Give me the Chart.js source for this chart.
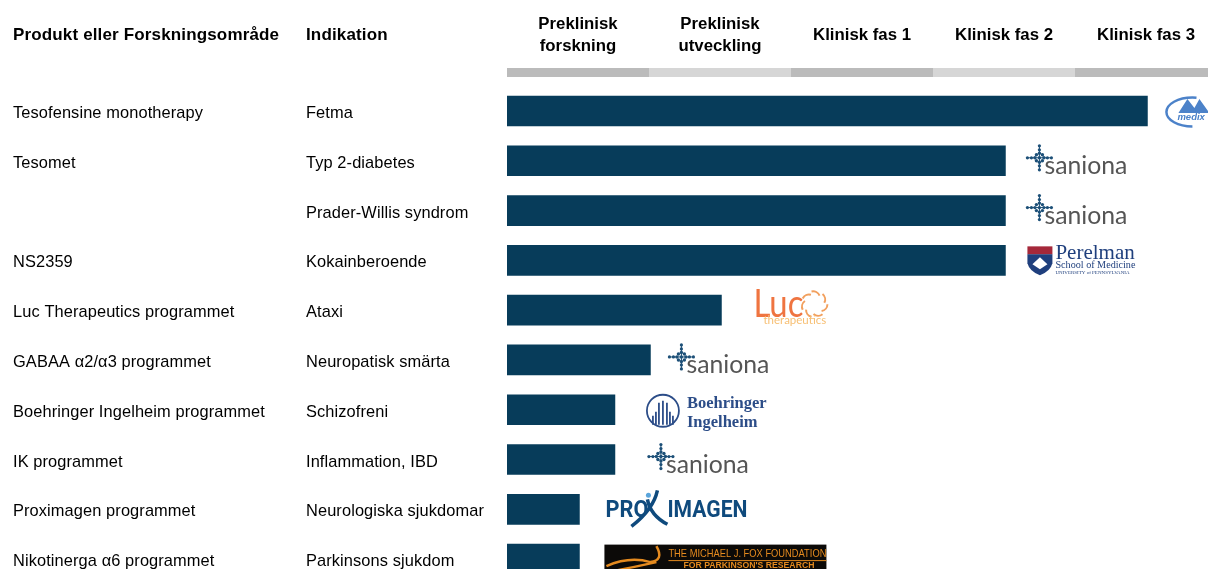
<!DOCTYPE html>
<html lang="sv">
<head>
<meta charset="utf-8">
<title>Pipeline</title>
<script src="https://cdn.jsdelivr.net/npm/chart.js@4"></script>
<style>
  html, body { margin: 0; padding: 0; background: #fff; overflow: hidden; width: 1208px; height: 569px; }
  #wrap { position: relative; width: 1217px; height: 600px; }
</style>
</head>
<body>
<div id="wrap"><canvas id="pipeline"></canvas></div>
<script>
const products = ["Tesofensine monotherapy", "Tesomet", "", "NS2359", "Luc Therapeutics programmet", "GABAA α2/α3 programmet", "Boehringer Ingelheim programmet", "IK programmet", "Proximagen programmet", "Nikotinerga α6 programmet"];
const indications = ["Fetma", "Typ 2-diabetes", "Prader-Willis syndrom", "Kokainberoende", "Ataxi", "Neuropatisk smärta", "Schizofreni", "Inflammation, IBD", "Neurologiska sjukdomar", "Parkinsons sjukdom"];
// progress measured in phases, 1 unit = one column
const progress = [4.51, 3.51, 3.51, 3.51, 1.51, 1.01, 0.76, 0.76, 0.51, 0.51];
const phases = [["Preklinisk", "forskning"], ["Preklinisk", "utveckling"], "Klinisk fas 1", "Klinisk fas 2", "Klinisk fas 3"];
const phaseTicks = [0.5, 1.5, 2.5, 3.5, 4.5];
const partners = ["medix", "saniona", "saniona", "perelman", "luc", "saniona", "boehringer", "saniona", "proximagen", "mjff"];
const headers = ["Produkt eller Forskningsområde", "Indikation"];

const SANS = '"Liberation Sans", Arial, sans-serif';
const SERIF = '"Liberation Serif", serif';

function txt(ctx, s, x, y, font, color, maxW) {
  ctx.font = font;
  ctx.fillStyle = color;
  ctx.textAlign = "left";
  ctx.textBaseline = "alphabetic";
  if (maxW) ctx.fillText(s, x, y, maxW);
  else ctx.fillText(s, x, y);
}

function drawSaniona(ctx, x, y) {
  const cx = x + 13, cy = y - 3, blue = "#1d5078";
  ctx.strokeStyle = blue;
  ctx.fillStyle = blue;
  ctx.lineWidth = 1;
  ctx.beginPath();
  ctx.moveTo(cx - 12, cy); ctx.lineTo(cx + 12, cy);
  ctx.moveTo(cx, cy - 12); ctx.lineTo(cx, cy + 12);
  ctx.stroke();
  [[-12, 0], [12, 0], [0, -12], [0, 12], [-8, 0], [8, 0], [0, -8], [0, 8]].forEach(p => {
    ctx.beginPath(); ctx.arc(cx + p[0], cy + p[1], 1.6, 0, Math.PI * 2); ctx.fill();
  });
  [[-3, -3], [3, -3], [-3, 3], [3, 3], [0, 0], [-4.5, 0], [4.5, 0], [0, -4.5], [0, 4.5]].forEach(p => {
    ctx.beginPath(); ctx.arc(cx + p[0], cy + p[1], 1.7, 0, Math.PI * 2); ctx.fill();
  });
  txt(ctx, "saniona", x + 18, y + 13, '25px Lato, "Open Sans", sans-serif', "#555555", 83);
}

function drawMedix(ctx, x, y) {
  const blue = "#4c82c9";
  ctx.strokeStyle = blue;
  ctx.lineWidth = 2.5;
  ctx.beginPath();
  ctx.ellipse(x + 27, y + 1, 26, 14.5, 0, Math.PI * 0.5, Math.PI * 1.55);
  ctx.stroke();
  ctx.fillStyle = blue;
  ctx.beginPath();
  ctx.moveTo(x + 13, y + 2); ctx.lineTo(x + 22, y - 12); ctx.lineTo(x + 29, y - 3);
  ctx.lineTo(x + 34, y - 12); ctx.lineTo(x + 44, y + 2);
  ctx.closePath();
  ctx.fill();
  txt(ctx, "medix", x + 12, y + 9, 'italic bold 9.5px ' + SANS, blue);
}

function drawPerelman(ctx, x, y) {
  const blue = "#1f3f7d";
  ctx.fillStyle = "#a5283a";
  ctx.fillRect(x + 1, y - 14, 25, 8);
  ctx.fillStyle = blue;
  ctx.beginPath();
  ctx.moveTo(x + 1, y - 6); ctx.lineTo(x + 26, y - 6); ctx.lineTo(x + 26, y + 3);
  ctx.quadraticCurveTo(x + 24, y + 11, x + 13.5, y + 15);
  ctx.quadraticCurveTo(x + 3, y + 11, x + 1, y + 3);
  ctx.closePath();
  ctx.fill();
  ctx.fillStyle = "#fff";
  ctx.beginPath();
  ctx.moveTo(x + 6, y + 4); ctx.lineTo(x + 13.5, y - 3); ctx.lineTo(x + 21, y + 4);
  ctx.lineTo(x + 13.5, y + 9);
  ctx.closePath();
  ctx.fill();
  txt(ctx, "Perelman", x + 29, y - 1, "21px " + SERIF, blue, 80);
  txt(ctx, "School of Medicine", x + 29, y + 8, "11px " + SERIF, blue, 80);
  txt(ctx, "UNIVERSITY of PENNSYLVANIA", x + 29, y + 14, "5px " + SERIF, blue, 80);
}

function drawLuc(ctx, x, y) {
  txt(ctx, "Luc", x, y + 7, '38px Lato, sans-serif', "#ef7440", 50);
  const cx = x + 61, cy = y - 6;
  ctx.strokeStyle = "#f2a05e";
  ctx.lineWidth = 2;
  for (let i = 0; i < 7; i++) {
    const a = i * Math.PI * 2 / 7;
    ctx.beginPath();
    ctx.arc(cx + Math.cos(a) * 6, cy + Math.sin(a) * 6, 7, a, a + 1.4);
    ctx.stroke();
  }
  txt(ctx, "therapeutics", x + 10, y + 14, '11.5px Lato, sans-serif', "#f7bf73", 66);
}

function drawBoehringer(ctx, x, y) {
  const blue = "#2c4d88";
  ctx.strokeStyle = blue;
  ctx.lineWidth = 1.8;
  ctx.beginPath();
  ctx.arc(x + 17, y + 1, 16, 0, Math.PI * 2);
  ctx.stroke();
  [[-10, 6], [-7, 2], [-4, -7], [0, -9], [4, -7], [7, 2], [10, 6]].forEach(b => {
    ctx.beginPath();
    ctx.moveTo(x + 17 + b[0], y + b[1]);
    ctx.lineTo(x + 17 + b[0], y + 15);
    ctx.stroke();
  });
  txt(ctx, "Boehringer", x + 41, y - 2, "bold 16.5px " + SERIF, blue, 81);
  txt(ctx, "Ingelheim", x + 41, y + 17, "bold 16.5px " + SERIF, blue, 73);
}

function drawProximagen(ctx, x, y) {
  const blue = "#0f4a7d";
  txt(ctx, "PRO", x + 1, y + 8, 'bold 24px Roboto, sans-serif', blue, 43);
  txt(ctx, "IMAGEN", x + 63, y + 8, 'bold 24px Roboto, sans-serif', blue, 80);
  ctx.strokeStyle = blue;
  ctx.lineWidth = 3.5;
  ctx.beginPath();
  ctx.moveTo(x + 53, y - 19); ctx.quadraticCurveTo(x + 49, y, x + 27, y + 17);
  ctx.moveTo(x + 43, y - 10); ctx.quadraticCurveTo(x + 46, y + 6, x + 63, y + 15);
  ctx.stroke();
  ctx.fillStyle = "#5aa5dc";
  ctx.beginPath();
  ctx.arc(x + 44, y - 14, 2.5, 0, Math.PI * 2);
  ctx.fill();
}

function drawMjff(ctx, x, y) {
  const orange = "#e48a1f";
  ctx.fillStyle = "#0c0a08";
  ctx.fillRect(x, y - 14.5, 222, 40);
  txt(ctx, "THE MICHAEL J. FOX FOUNDATION", x + 64, y - 2, "11.5px " + SANS, orange, 158);
  ctx.fillStyle = orange;
  ctx.fillRect(x + 64, y + 1, 158, 1);
  txt(ctx, "FOR PARKINSON'S RESEARCH", x + 79, y + 9, "bold 9.5px " + SANS, orange, 131);
  ctx.strokeStyle = orange;
  ctx.lineWidth = 2.5;
  ctx.beginPath();
  ctx.moveTo(x + 2, y + 7);
  ctx.quadraticCurveTo(x + 25, y - 3, x + 46, y + 3);
  ctx.quadraticCurveTo(x + 60, y + 1, x + 52, y - 13);
  ctx.moveTo(x + 52, y + 3);
  ctx.quadraticCurveTo(x + 30, y + 8, x + 8, y + 12);
  ctx.stroke();
}

const logoPainters = {
  medix: drawMedix,
  saniona: drawSaniona,
  perelman: drawPerelman,
  luc: drawLuc,
  boehringer: drawBoehringer,
  proximagen: drawProximagen,
  mjff: drawMjff
};
// gap between bar end and logo, per row
const logoGaps = [18, 21, 21, 21, 32, 18, 31, 33, 25, 25];

const pipelineExtras = {
  id: "pipelineExtras",
  beforeDatasetsDraw(chart) {
    const ctx = chart.ctx, x = chart.scales.x, y = chart.scales.y;
    // grey phase band below the headers
    phaseTicks.forEach((t, i) => {
      ctx.fillStyle = i % 2 ? "#d6d6d6" : "#bbbbbb";
      ctx.fillRect(x.getPixelForValue(t - 0.5), 68, x.getPixelForValue(t + 0.5) - x.getPixelForValue(t - 0.5), 9);
    });
    ctx.letterSpacing = "0.15px";
    txt(ctx, headers[0], y.left, 39.5, "bold 17px " + SANS, "#000");
    txt(ctx, headers[1], y.left + 293, 39.5, "bold 17px " + SANS, "#000");
    ctx.letterSpacing = "0.1px";
    products.forEach((p, i) => {
      txt(ctx, p, y.left, y.getPixelForValue(i) + 7, "16.4px " + SANS, "#000");
      txt(ctx, indications[i], y.left + 293, y.getPixelForValue(i) + 7, "16.4px " + SANS, "#000");
    });
    ctx.letterSpacing = "0px";
  },
  afterDatasetsDraw(chart) {
    const ctx = chart.ctx, x = chart.scales.x, y = chart.scales.y;
    ctx.save();
    partners.forEach((p, i) => {
      logoPainters[p](ctx, x.getPixelForValue(progress[i]) + logoGaps[i], y.getPixelForValue(i));
    });
    ctx.restore();
  }
};

new Chart(document.getElementById("pipeline"), {
  type: "bar",
  data: {
    labels: products,
    datasets: [{
      data: progress,
      backgroundColor: "#073c5a",
      barThickness: 30
    }]
  },
  options: {
    indexAxis: "y",
    responsive: true,
    maintainAspectRatio: false,
    animation: false,
    layout: { padding: { left: 13, right: 0, top: 0, bottom: 16 } },
    plugins: { legend: { display: false }, tooltip: { enabled: false } },
    scales: {
      x: {
        position: "top",
        min: 0,
        max: 5,
        border: { display: false },
        grid: { display: false, drawTicks: false },
        afterBuildTicks(scale) { scale.ticks = phaseTicks.map(v => ({ value: v })); },
        afterFit(scale) {
          scale.height = 86.1;
          scale.paddingLeft = 0;
          scale.paddingRight = 0;
        },
        ticks: {
          autoSkip: false,
          maxRotation: 0,
          minRotation: 0,
          crossAlign: "center",
          padding: 40,
          color: "#000",
          font: { family: SANS, size: 16.8, weight: "bold", lineHeight: 22 / 16.8 },
          callback(v, i) { return phases[i]; }
        }
      },
      y: {
        position: "left",
        afterFit(scale) { scale.width = 494; },
        border: { display: false },
        grid: { display: false, drawTicks: false },
        ticks: { display: false }
      }
    }
  },
  plugins: [pipelineExtras]
});
</script>
</body>
</html>
